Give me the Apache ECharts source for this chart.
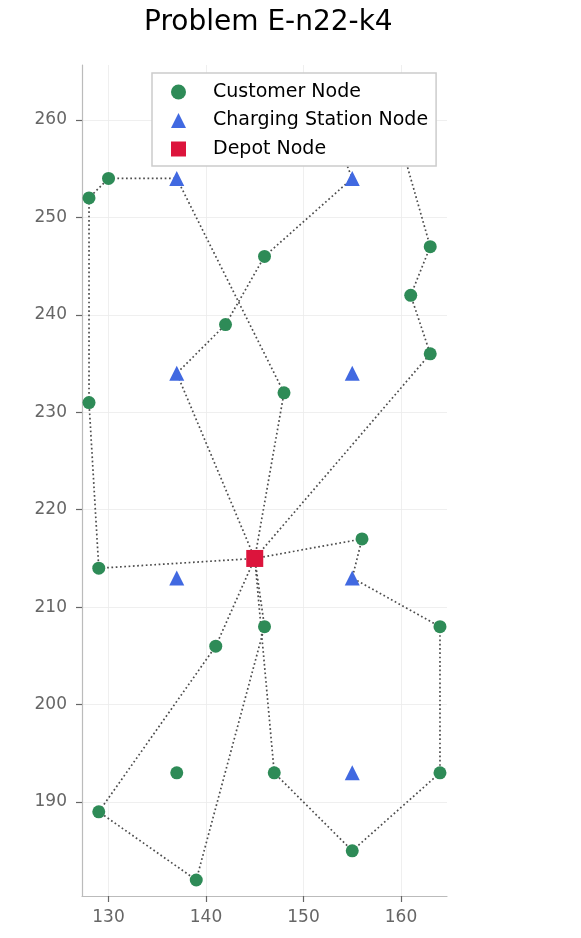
<!DOCTYPE html>
<html>
<head>
<meta charset="utf-8">
<script src="https://cdn.jsdelivr.net/npm/echarts@6/dist/echarts.min.js"></script>
<style>
html,body{margin:0;padding:0;background:#fff;}
#chart{width:581px;height:938px;}
</style>
</head>
<body>
<div id="chart"></div>
<script>
const customerNodes = [
  [151,264],[159,261],[130,254],[128,252],[163,247],[146,246],[161,242],[142,239],
  [163,236],[148,232],[128,231],[156,217],[129,214],[146,208],[164,208],[141,206],
  [147,193],[164,193],[129,189],[155,185],[139,182],[137,193]
];
const chargingStations = [[137,254],[155,254],[137,234],[155,234],[137,213],[155,213],[155,193]];
const depotNode = [[145,215]];
const route1 = [[145,215],[129,214],[128,231],[128,252],[130,254],[137,254],[148,232],[145,215]];
const route2 = [[145,215],[163,236],[161,242],[163,247],[159,261],[151,264],[155,254],[146,246],[142,239],[137,234],[145,215]];
const route3 = [[145,215],[156,217],[155,213],[164,208],[164,193],[155,185],[147,193],[145,215]];
const route4 = [[145,215],[141,206],[129,189],[139,182],[146,208],[145,215]];
const xTicks = [130,140,150,160];
const yTicks = [190,200,210,220,230,240,250,260];
const legendNames = ['Customer Node','Charging Station Node','Depot Node'];

const font = 'DejaVu Sans';
const routeSeries = [route1, route2, route3, route4].map(r => ({
  type: 'line', data: r, symbol: 'none', z: 1, silent: true,
  lineStyle: { color: '#4d4d4d', width: 1.7, type: [1.7, 2.6], cap: 'butt' },
  animation: false
}));

const chart = echarts.init(document.getElementById('chart'), null, { renderer: 'canvas' });
chart.setOption({
  animation: false,
  backgroundColor: '#fff',
  title: {
    text: 'Problem E-n22-k4', left: 139, top: 4,
    textStyle: { fontFamily: font, fontSize: 28, fontWeight: 'normal', color: '#000' }
  },
  grid: { left: 82, right: 134, top: 65, bottom: 42, containLabel: false },
  xAxis: {
    type: 'value', min: 127.28, max: 164.72,
    axisLine: { show: true, lineStyle: { color: '#bbb', width: 1.2 } },
    axisTick: { show: true, length: 6, customValues: xTicks, lineStyle: { color: '#666', width: 1.2 } },
    axisLabel: { customValues: xTicks, fontFamily: font, fontSize: 17, color: '#666', margin: 13 },
    splitLine: { show: true, lineStyle: { color: '#ebebeb', width: 0.8 } }
  },
  yAxis: {
    type: 'value', min: 180.36, max: 265.64,
    axisLine: { show: true, lineStyle: { color: '#bbb', width: 1.2 } },
    axisTick: { show: true, length: 6, customValues: yTicks, lineStyle: { color: '#666', width: 1.2 } },
    axisLabel: { customValues: yTicks, fontFamily: font, fontSize: 17, color: '#666', margin: 15 },
    splitLine: { show: true, lineStyle: { color: '#ebebeb', width: 0.8 } }
  },
  legend: {
    data: [
      { name: legendNames[0], icon: 'circle' },
      { name: legendNames[1], icon: 'triangle' },
      { name: legendNames[2], icon: 'rect' }
    ],
    orient: 'vertical', left: 152, top: 73,
    padding: [9, 8, 7, 19],
    itemWidth: 15, itemHeight: 15, itemGap: 8.5,
    backgroundColor: '#fff', borderColor: '#ccc', borderWidth: 1.5, borderRadius: 0,
    textStyle: { fontFamily: font, fontSize: 19, color: '#000', lineHeight: 20, padding: [0, 0, 0, 22] },
    selectedMode: false
  },
  series: routeSeries.concat([
    { name: legendNames[0], type: 'scatter', data: customerNodes, symbol: 'circle', symbolSize: 13,
      itemStyle: { color: '#2e8b57', opacity: 1 }, z: 3 },
    { name: legendNames[1], type: 'scatter', data: chargingStations, symbol: 'triangle', symbolSize: 15,
      itemStyle: { color: '#4169e1', opacity: 1 }, z: 3 },
    { name: legendNames[2], type: 'scatter', data: depotNode, symbol: 'rect', symbolSize: 17,
      itemStyle: { color: '#dc143c', opacity: 1 }, z: 3 }
  ])
});
</script>
</body>
</html>
